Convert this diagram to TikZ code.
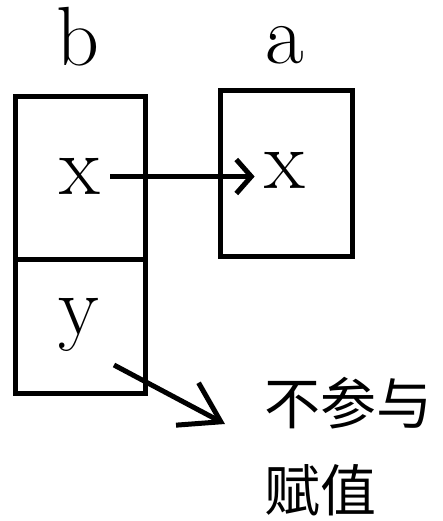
\documentclass[tikz,border=0pt]{standalone}
\usepackage{fontspec}
\newfontfamily\cjk{Noto Sans CJK SC}
\usetikzlibrary{arrows.meta}

\begin{document}
\begin{tikzpicture}[x=0.5pt,y=-0.5pt,line width=2.5pt,
    box/.style={draw,rectangle,inner sep=0pt},
    letter/.style={inner sep=3.75pt,font=\fontsize{42}{50}\selectfont}]
    \useasboundingbox (0,0) rectangle (443,521);
    \node[box,minimum width=65pt,minimum height=81.5pt] (b1) at (80,177.5) {};
    \node[box,minimum width=65pt,minimum height=67pt] (b2) at (80,326) {};
    \node[box,minimum width=66pt,minimum height=83pt] (a1) at (286,173) {};
    \node[letter,anchor=base,inner sep=0pt] (lb) at (78,65) {b};
    \node[letter,anchor=base,inner sep=0pt] (la) at (285,63) {a};
    \node[letter] (xb) at (80,176.5) {x};
    \node[letter] (xa) at (285,170) {x};
    \node[letter,anchor=base] (yb) at (79,334) {y};
    \node[anchor=base west,inner sep=0pt,align=left,
          font=\cjk\fontsize{28}{39.5}\selectfont] (t) at (262,511) {不参与\\[4pt]赋值};
    \coordinate (s) at (114,365);
    \coordinate (e) at (225,424);

    \draw[-{Straight Barb[length=7.5pt,width=17pt]}] (xb.east) -- (xb.east -| xa.west);
    \draw[-{Straight Barb[length=19pt,width=24pt]}] (s) -- (e);
\end{tikzpicture}
\end{document}
